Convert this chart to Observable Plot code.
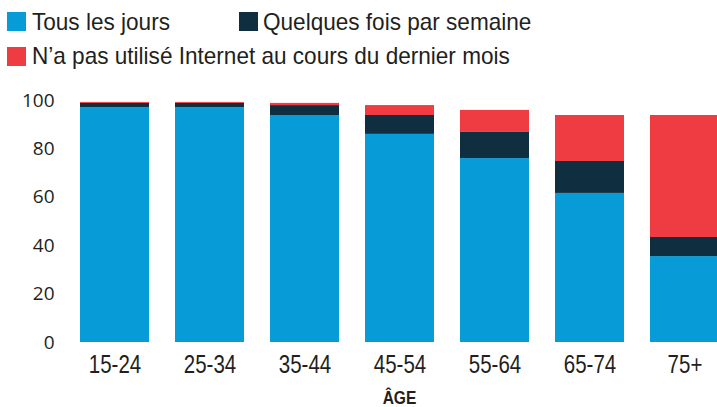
<!DOCTYPE html>
<html>
<head>
<meta charset="utf-8">
<script src="https://cdn.jsdelivr.net/npm/d3@7"></script>
<script src="https://cdn.jsdelivr.net/npm/@observablehq/plot@0.6"></script>
<style>
  html, body { margin: 0; padding: 0; background: #fff; width: 717px; height: 407px; overflow: hidden; }
  #wrap { position: relative; width: 717px; height: 407px; }
  .sw { position: absolute; width: 19px; height: 19px; }
  .lt { position: absolute; font-family: "Liberation Sans", Arial, sans-serif;
        font-size: 24px; line-height: 24px; color: #231f20; white-space: nowrap;
        transform: scaleX(0.94); transform-origin: 0 0; }
  #chart { position: absolute; left: 0; top: 80px; }
</style>
</head>
<body>
<div id="wrap">
  <div id="legend"></div>
  <div id="chart"></div>
</div>
<script>
const ages = ["15-24", "25-34", "35-44", "45-54", "55-64", "65-74", "75+"];
const seriesNames = ["Tous les jours", "Quelques fois par semaine", "N’a pas utilisé Internet au cours du dernier mois"];
const seriesColors = ["#079bd7", "#0f2f40", "#ef3b42"];
const tousLesJours = [97, 97, 93.8, 86, 76, 61.6, 35.5];
const quelquesFois = [1.8, 1.8, 4.1, 7.8, 10.8, 13.2, 7.9];
const pasUtilise = [0.4, 0.4, 0.9, 4.1, 9.1, 19, 50.4];
const yTicks = [0, 20, 40, 60, 80, 100];
const xTitle = "ÂGE";

const seriesValues = [tousLesJours, quelquesFois, pasUtilise];
const rows = [];
seriesNames.forEach((s, k) => ages.forEach((a, i) => rows.push({age: a, series: s, value: seriesValues[k][i]})));

// legend (HTML, above the SVG)
const legendPos = [
  {sx: 7, sy: 12, tx: 32, ty: 10},
  {sx: 239, sy: 12, tx: 263, ty: 10},
  {sx: 7, sy: 47, tx: 32, ty: 44}
];
const legend = document.getElementById("legend");
seriesNames.forEach((s, k) => {
  const p = legendPos[k];
  const sw = document.createElement("div");
  sw.className = "sw";
  sw.style.left = p.sx + "px"; sw.style.top = p.sy + "px"; sw.style.background = seriesColors[k];
  legend.appendChild(sw);
  const t = document.createElement("div");
  t.className = "lt";
  t.style.left = p.tx + "px"; t.style.top = p.ty + "px";
  t.textContent = s;
  legend.appendChild(t);
});

const narrow = "Liberation Sans, Arial, sans-serif";
const chart = Plot.plot({
  width: 717,
  height: 327,
  marginTop: 20,
  marginBottom: 65,
  marginLeft: 79,
  marginRight: -2,
  style: {background: "transparent", color: "#231f20", overflow: "hidden"},
  x: {domain: ages, paddingInner: 0.275, paddingOuter: 0, axis: null},
  y: {domain: [0, 100], axis: null},
  color: {domain: seriesNames, range: seriesColors},
  marks: [
    Plot.barY(rows, {x: "age", y: "value", fill: "series"}),
    Plot.axisY({ticks: yTicks, tickSize: 0, tickPadding: 25, fontSize: 19, fontFamily: "Open Sans", label: null}),
    Plot.axisX({tickSize: 0, tickPadding: 13, fontSize: 25, fontFamily: narrow, label: null}),
    Plot.text([xTitle], {text: d => d, frameAnchor: "bottom", dy: 61, lineAnchor: "bottom", fontSize: 19, fontWeight: "bold", fontFamily: narrow, fill: "#231f20"})
  ]
});
// condense the x-axis labels horizontally (narrow typeface look)
const condense = new Set([...ages, xTitle]);
d3.select(chart).selectAll("text").each(function() {
  if (!condense.has(this.textContent.trim())) return;
  const el = d3.select(this);
  const tr = el.attr("transform") || "";
  el.attr("transform", `${tr} scale(0.82,1)`.trim());
});
document.getElementById("chart").appendChild(chart);
</script>
</body>
</html>
